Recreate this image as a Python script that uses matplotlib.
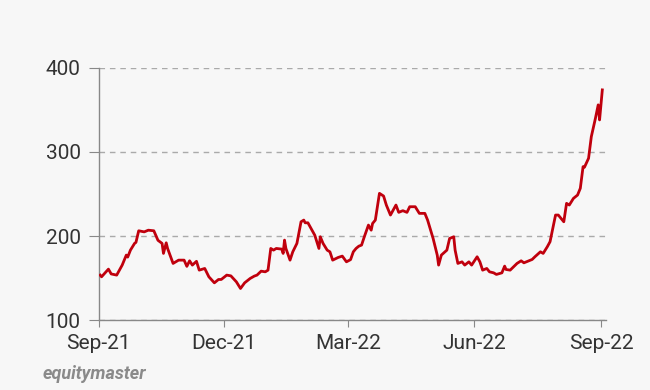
import pandas as pd
import matplotlib.pyplot as plt

# price series (Sep-21 .. Sep-22)
dates = [
    '2021-09-02', '2021-09-03', '2021-09-08', '2021-09-10', '2021-09-14', '2021-09-18',
    '2021-09-21', '2021-09-22', '2021-09-24', '2021-09-27', '2021-09-28', '2021-09-30',
    '2021-10-04', '2021-10-07', '2021-10-11', '2021-10-14', '2021-10-17', '2021-10-18',
    '2021-10-20', '2021-10-21', '2021-10-25', '2021-10-29', '2021-11-02', '2021-11-04',
    '2021-11-06', '2021-11-08', '2021-11-11', '2021-11-13', '2021-11-17', '2021-11-20',
    '2021-11-24', '2021-11-27', '2021-11-29', '2021-12-03', '2021-12-06', '2021-12-10',
    '2021-12-13', '2021-12-16', '2021-12-20', '2021-12-23', '2021-12-25', '2021-12-28',
    '2021-12-31', '2022-01-02', '2022-01-04', '2022-01-06', '2022-01-08', '2022-01-12',
    '2022-01-13', '2022-01-14', '2022-01-15', '2022-01-18', '2022-01-20', '2022-01-23',
    '2022-01-26', '2022-01-28', '2022-01-29', '2022-01-31', '2022-02-03', '2022-02-05',
    '2022-02-08', '2022-02-09', '2022-02-11', '2022-02-14', '2022-02-16', '2022-02-18',
    '2022-02-22', '2022-02-25', '2022-02-28', '2022-03-03', '2022-03-05', '2022-03-07',
    '2022-03-09', '2022-03-11', '2022-03-13', '2022-03-16', '2022-03-18', '2022-03-19',
    '2022-03-21', '2022-03-24', '2022-03-27', '2022-03-29', '2022-04-01', '2022-04-03',
    '2022-04-05', '2022-04-07', '2022-04-10', '2022-04-13', '2022-04-15', '2022-04-19',
    '2022-04-22', '2022-04-26', '2022-04-28', '2022-05-02', '2022-05-05', '2022-05-06',
    '2022-05-08', '2022-05-12', '2022-05-14', '2022-05-17', '2022-05-18', '2022-05-20',
    '2022-05-23', '2022-05-25', '2022-05-28', '2022-05-30', '2022-06-03', '2022-06-05',
    '2022-06-07', '2022-06-10', '2022-06-12', '2022-06-15', '2022-06-17', '2022-06-21',
    '2022-06-23', '2022-06-24', '2022-06-27', '2022-06-29', '2022-07-02', '2022-07-05',
    '2022-07-07', '2022-07-13', '2022-07-15', '2022-07-19', '2022-07-21', '2022-07-24',
    '2022-07-26', '2022-07-30', '2022-08-01', '2022-08-05', '2022-08-07', '2022-08-09',
    '2022-08-12', '2022-08-15', '2022-08-17', '2022-08-19', '2022-08-20', '2022-08-23',
    '2022-08-25', '2022-08-28', '2022-08-30', '2022-08-31', '2022-09-02',
]
prices = [
    153.6, 151.6, 160.7, 155.0, 153.6, 165.5,
    177.4, 175.0, 183.3, 191.3, 192.5, 206.3,
    205.0, 207.0, 206.3, 195.0, 191.3, 179.4,
    192.0, 185.3, 167.5, 171.4, 171.4, 164.0,
    170.6, 165.5, 170.0, 159.5, 161.5, 151.6,
    144.4, 148.4, 148.4, 153.6, 152.7, 145.6,
    137.7, 144.4, 149.6, 152.4, 153.6, 158.3,
    157.5, 159.5, 185.3, 183.3, 185.3, 184.5,
    179.4, 195.2, 185.3, 171.4, 181.3, 191.3,
    217.0, 219.0, 215.8, 215.8, 207.0, 201.0,
    185.3, 199.2, 191.3, 183.3, 181.3, 171.4,
    174.6, 176.2, 169.4, 172.0, 181.3, 185.3,
    188.0, 189.3, 199.2, 213.1, 207.0, 215.0,
    219.0, 250.8, 247.6, 236.9, 225.0, 231.0,
    236.9, 228.2, 230.2, 228.2, 234.9, 234.9,
    227.0, 227.0, 219.0, 197.2, 177.4, 165.5,
    177.4, 183.3, 197.2, 199.2, 183.3, 167.5,
    169.4, 165.5, 169.4, 165.5, 175.4, 169.4,
    159.5, 161.5, 157.5, 156.3, 154.4, 156.3,
    164.3, 160.3, 159.5, 162.7, 167.5, 170.6,
    168.2, 172.2, 175.4, 181.3, 179.4, 187.3,
    193.3, 225.0, 225.0, 217.0, 238.9, 236.9,
    244.8, 248.8, 256.8, 282.5, 281.8, 292.5,
    318.2, 340.1, 356.0, 338.1, 373.8,
]
tick_dates = ['2021-09-01', '2021-12-01', '2022-03-01', '2022-06-01', '2022-09-01']
tick_labels = ['Sep-21', 'Dec-21', 'Mar-22', 'Jun-22', 'Sep-22']
y_ticks = [100, 200, 300, 400]

bg = '#f7f7f7'
plt.rcParams['font.family'] = ['Roboto', 'DejaVu Sans']

fig = plt.figure(figsize=(6.5, 3.9), dpi=100, facecolor=bg)
ax = fig.add_axes([0.152, 0.179, 0.781, 0.647], facecolor=bg)

x = pd.to_datetime(dates)
ax.plot(x, prices, color='#c0000d', lw=2.0, solid_joinstyle='round', zorder=3)

ax.set_ylim(100, 400)
ax.set_xlim(pd.Timestamp('2021-09-01'), pd.Timestamp('2022-09-05'))
ax.set_yticks(y_ticks)
ax.set_xticks(pd.to_datetime(tick_dates))
ax.set_xticklabels(tick_labels)

ax.grid(axis='y', color='#aaaaaa', linestyle=(0, (4, 3.5)), lw=1.0)
ax.set_axisbelow(True)

for s in ['top', 'right']:
    ax.spines[s].set_visible(False)
for s in ['left', 'bottom']:
    ax.spines[s].set_color('#888888')
    ax.spines[s].set_linewidth(1.0)

ax.tick_params(axis='both', colors='#888888', labelcolor='#333333', labelsize=15)
ax.tick_params(axis='y', length=7, pad=6)
ax.tick_params(axis='x', length=5, pad=5)

fig.text(0.065, 0.028, 'equitymaster', fontsize=13, style='italic',
         fontweight='bold', color='#8a8a8a')

fig.savefig('out.png', dpi=100, facecolor=bg)
